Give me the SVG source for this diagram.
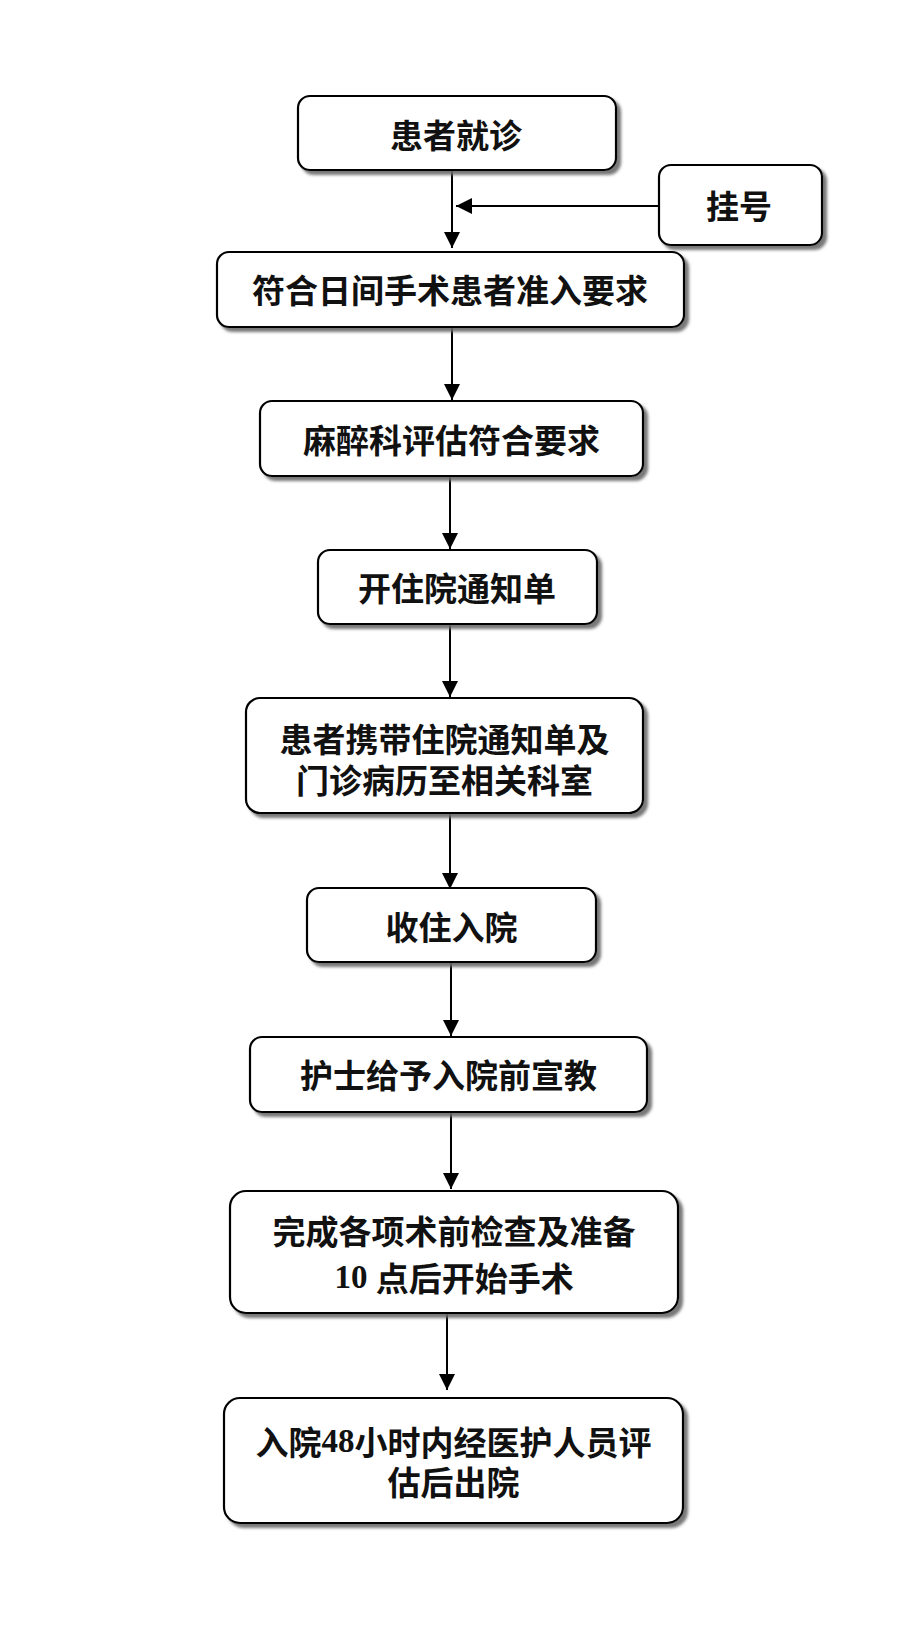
<svg xmlns="http://www.w3.org/2000/svg" width="921" height="1638" viewBox="0 0 921 1638">
<style>
.box{fill:#fff;stroke:#000;stroke-width:2.2;filter:url(#sh)}
.t{font-family:"Noto Sans CJK SC","Noto Sans CJK JP",sans-serif;font-weight:bold;font-size:33px;fill:#111;text-anchor:middle;dominant-baseline:central}
.n{font-family:"Liberation Serif",serif;font-weight:bold}
.c{stroke:#000;stroke-width:2;fill:none;marker-end:url(#ah)}
</style>
<defs>
<filter id="sh" x="-5%" y="-10%" width="115%" height="130%">
<feDropShadow dx="4" dy="4" stdDeviation="1.4" flood-color="#6a6a6a" flood-opacity="0.9"/>
</filter>
<marker id="ah" viewBox="0 0 16 16" refX="16" refY="8" markerWidth="16" markerHeight="16" markerUnits="userSpaceOnUse" orient="auto">
<path d="M0,0 L16,8 L0,16 Z" fill="#000"/>
</marker>
</defs>
<rect width="921" height="1638" fill="#fff"/>
<g id="connectors">
<line class="c" x1="452" y1="170" x2="452" y2="248"/>
<line class="c" x1="659" y1="206" x2="456" y2="206"/>
<line class="c" x1="452" y1="327" x2="452" y2="400"/>
<line class="c" x1="450" y1="476" x2="450" y2="549"/>
<line class="c" x1="450" y1="624" x2="450" y2="697"/>
<line class="c" x1="450" y1="813" x2="450" y2="889"/>
<line class="c" x1="451" y1="962" x2="451" y2="1036"/>
<line class="c" x1="451" y1="1112" x2="451" y2="1189"/>
<line class="c" x1="447" y1="1313" x2="447" y2="1390"/>
</g>
<g id="n1"><rect class="box" x="298" y="96" width="318" height="74" rx="12"/><text class="t" x="456" y="134">患者就诊</text></g>
<g id="n_reg"><rect class="box" x="659" y="165" width="163" height="80" rx="12"/><text class="t" x="739" y="205">挂号</text></g>
<g id="n2"><rect class="box" x="217" y="252" width="467" height="75" rx="12"/><text class="t" x="450" y="289">符合日间手术患者准入要求</text></g>
<g id="n3"><rect class="box" x="260" y="401" width="383" height="75" rx="12"/><text class="t" x="451.5" y="439">麻醉科评估符合要求</text></g>
<g id="n4"><rect class="box" x="318" y="550" width="279" height="74" rx="12"/><text class="t" x="457" y="587">开住院通知单</text></g>
<g id="n5"><rect class="box" x="246" y="698" width="397" height="115" rx="14"/><text class="t" x="444.5" y="738">患者携带住院通知单及</text><text class="t" x="444.5" y="779">门诊病历至相关科室</text></g>
<g id="n6"><rect class="box" x="307" y="888" width="289" height="74" rx="12"/><text class="t" x="451.5" y="926">收住入院</text></g>
<g id="n7"><rect class="box" x="250" y="1037" width="397" height="75" rx="12"/><text class="t" x="448.5" y="1074">护士给予入院前宣教</text></g>
<g id="n8"><rect class="box" x="230" y="1191" width="448" height="122" rx="16"/><text class="t" x="454" y="1230">完成各项术前检查及准备</text><text class="t" x="454" y="1277"><tspan class="n">10 </tspan>点后开始手术</text></g>
<g id="n9"><rect class="box" x="224" y="1398" width="459" height="125" rx="16"/><text class="t" x="453.5" y="1441">入院<tspan class="n">48</tspan>小时内经医护人员评</text><text class="t" x="453.5" y="1481">估后出院</text></g>
</svg>
